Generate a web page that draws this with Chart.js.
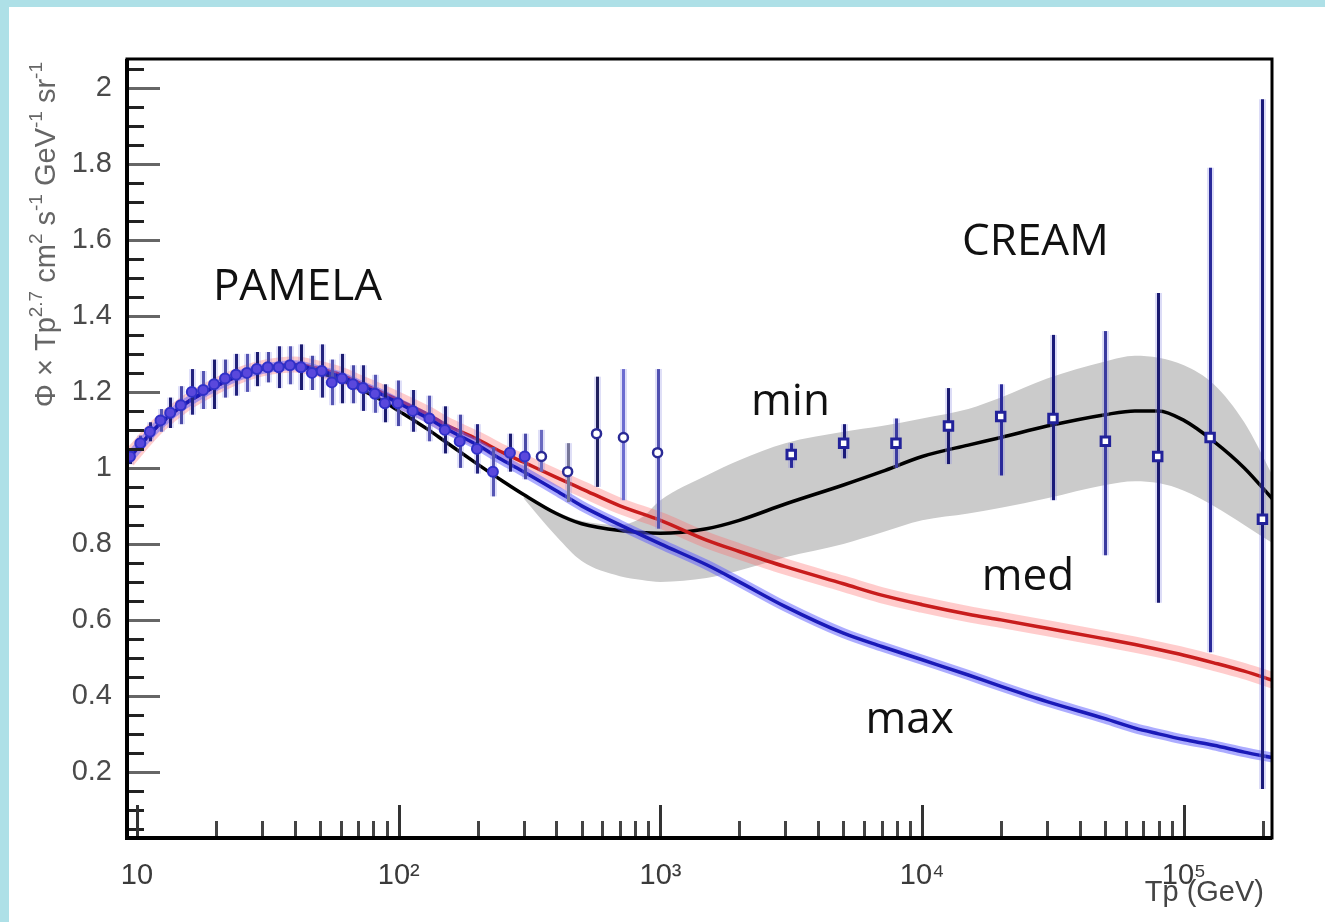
<!DOCTYPE html>
<html lang="en">
<head>
  <meta charset="UTF-8" />
  <title>Proton flux | PAMELA / CREAM</title>
  <style>
    body {
      margin: 0;
      background: #fff;
    }

    .frame {
      width: 1316px;
      height: 915px;
      border-top: 7px solid #aee0e7;
      border-left: 9px solid #aee0e7;
      background: #fff;
    }

    canvas {
      display: block;
    }
  </style>
</head>
<body>
  <div class="frame">
    <canvas id="fluxChart" width="1316" height="915"></canvas>
  </div>

  <script src="https://cdn.jsdelivr.net/npm/chart.js"></script>
  <script>
    // model curves (Tp in GeV)
    const curveE = [9.2, 10, 12, 15, 20, 25, 30, 40, 50, 60, 70, 85, 100, 130, 150, 200, 250, 300, 400, 500,
      700, 1000, 1500, 2000, 3000, 5000, 7000, 10000, 15000, 20000, 30000, 50000, 65000, 80000, 100000,
      130000, 170000, 220000];
    const maxCurve = [1.02, 1.05, 1.11, 1.165, 1.215, 1.245, 1.26, 1.27, 1.255, 1.24, 1.22, 1.195, 1.17, 1.13,
      1.105, 1.06, 1.02, 0.99, 0.94, 0.90, 0.85, 0.80, 0.745, 0.70, 0.635, 0.565, 0.53, 0.495, 0.455, 0.425,
      0.385, 0.34, 0.315, 0.30, 0.285, 0.27, 0.252, 0.237];
    const medCurve = [1.02, 1.05, 1.11, 1.165, 1.215, 1.245, 1.262, 1.272, 1.26, 1.245, 1.225, 1.2, 1.178, 1.14,
      1.115, 1.075, 1.04, 1.015, 0.975, 0.945, 0.90, 0.862, 0.81, 0.78, 0.74, 0.695, 0.665, 0.64, 0.615, 0.60,
      0.578, 0.55, 0.535, 0.522, 0.507, 0.487, 0.465, 0.44];
    const minCurve = [1.02, 1.05, 1.11, 1.165, 1.215, 1.245, 1.26, 1.268, 1.25, 1.232, 1.21, 1.18, 1.15, 1.10,
      1.07, 1.01, 0.965, 0.93, 0.88, 0.853, 0.835, 0.828, 0.84, 0.862, 0.905, 0.955, 0.99, 1.03, 1.06, 1.08,
      1.11, 1.14, 1.15, 1.15, 1.125, 1.07, 1.0, 0.915];

    // uncertainty band of the "min" model
    const bandE = [300, 400, 500, 700, 850, 1000, 1500, 2000, 3000, 5000, 7000, 10000, 15000, 20000, 30000,
      50000, 65000, 80000, 100000, 130000, 170000, 220000];
    const bandHi = [0.93, 0.885, 0.86, 0.85, 0.87, 0.915, 0.98, 1.02, 1.065, 1.095, 1.11, 1.13, 1.155, 1.185,
      1.235, 1.28, 1.295, 1.29, 1.27, 1.22, 1.12, 0.975];
    const bandLo = [0.92, 0.82, 0.755, 0.715, 0.705, 0.70, 0.71, 0.73, 0.765, 0.80, 0.83, 0.862, 0.88, 0.895,
      0.92, 0.955, 0.965, 0.96, 0.94, 0.90, 0.85, 0.80];

    // PAMELA
    const pamE = [9.4, 10.3, 11.2, 12.3, 13.4, 14.7, 16.2, 17.9, 19.7, 21.7, 23.9, 26.3, 28.7, 31.6, 34.8,
      38.4, 42.3, 46.6, 50.8, 55.5, 60.7, 66.8, 73.0, 81.1, 88.5, 99.1, 113, 131, 150, 171, 199, 229, 266, 303];
    const pamV = [1.03, 1.065, 1.095, 1.125, 1.145, 1.165, 1.2, 1.205, 1.22, 1.235, 1.245, 1.25, 1.26, 1.265,
      1.265, 1.27, 1.265, 1.25, 1.255, 1.225, 1.235, 1.22, 1.21, 1.195, 1.17, 1.17, 1.15, 1.13, 1.10, 1.07,
      1.05, 0.99, 1.04, 1.03];
    const pamErr = [0.02, 0.02, 0.025, 0.03, 0.04, 0.05, 0.06, 0.05, 0.065, 0.05, 0.055, 0.05, 0.045, 0.04,
      0.055, 0.05, 0.06, 0.045, 0.07, 0.06, 0.065, 0.05, 0.06, 0.05, 0.05, 0.06, 0.055, 0.06, 0.062, 0.07,
      0.065, 0.065, 0.05, 0.06];

    // PAMELA high-energy points
    const hiE = [351, 442, 570, 722, 975];
    const hiV = [1.03, 0.99, 1.09, 1.08, 1.04];
    const hiLo = [0.99, 0.91, 0.95, 0.915, 0.84];
    const hiHi = [1.10, 1.065, 1.24, 1.26, 1.26];

    // CREAM
    const crE = [3160, 5010, 7940, 12600, 19950, 31600, 50100, 79400, 125900, 199500];
    const crV = [1.035, 1.065, 1.065, 1.11, 1.135, 1.13, 1.07, 1.03, 1.08, 0.865];
    const crLo = [1.0, 1.025, 1.0, 1.01, 0.98, 0.915, 0.77, 0.645, 0.515, 0.155];
    const crHi = [1.065, 1.115, 1.13, 1.21, 1.22, 1.35, 1.36, 1.46, 1.79, 1.97];

    // axes
    const xTickVals = [10, 100, 1000, 10000, 100000];
    const xTickLabels = ['10', '10²', '10³', '10⁴', '10⁵'];
    const yTickVals = [0.2, 0.4, 0.6, 0.8, 1.0, 1.2, 1.4, 1.6, 1.8, 2.0];
    const yTickLabels = ['0.2', '0.4', '0.6', '0.8', '1', '1.2', '1.4', '1.6', '1.8', '2'];

    // text labels placed in data coordinates
    const notes = [
      { text: 'PAMELA', x: 19.5, y: 1.442 },
      { text: 'CREAM', x: 14200, y: 1.56 },
      { text: 'min', x: 2220, y: 1.14 },
      { text: 'med', x: 16900, y: 0.679 },
      { text: 'max', x: 6070, y: 0.303 }
    ];

    const pts = (xs, ys) => xs.map((x, i) => ({ x: x, y: ys[i] }));
    const sans = "'Liberation Sans', Arial, sans-serif";

    // error bars drawn just before their dataset's markers
    const errorBars = {
      id: 'errorBars',
      beforeDatasetDraw(chart, args) {
        const ds = chart.data.datasets[args.index];
        if (!ds.errLo) return;
        const { ctx, chartArea, scales } = chart;
        ctx.save();
        ctx.beginPath();
        ctx.rect(chartArea.left, chartArea.top, chartArea.width, chartArea.height);
        ctx.clip();
        ds.data.forEach((p, i) => {
          const px = Math.round(scales.x.getPixelForValue(p.x)) + 0.5;
          const top = scales.y.getPixelForValue(ds.errHi[i]);
          const bot = scales.y.getPixelForValue(ds.errLo[i]);
          ctx.strokeStyle = ds.errGlow;
          ctx.lineWidth = 7;
          ctx.beginPath(); ctx.moveTo(px, top); ctx.lineTo(px, bot); ctx.stroke();
          ctx.strokeStyle = ds.errColors[i % ds.errColors.length];
          ctx.lineWidth = 3;
          ctx.beginPath(); ctx.moveTo(px, top); ctx.lineTo(px, bot); ctx.stroke();
        });
        ctx.restore();
      }
    };

    // ROOT-like frame, inward ticks, axis titles and text notes
    const decorations = {
      id: 'decorations',
      afterDatasetsDraw(chart) {
        const { ctx, scales } = chart;
        ctx.save();
        ctx.fillStyle = '#111';
        ctx.font = "44px 'Open Sans', 'Liberation Sans', sans-serif";
        ctx.textBaseline = 'alphabetic';
        notes.forEach(n => {
          ctx.fillText(n.text, scales.x.getPixelForValue(n.x), scales.y.getPixelForValue(n.y));
        });
        ctx.restore();
      },
      afterDraw(chart) {
        const { ctx, chartArea: a, scales } = chart;
        ctx.save();

        // y ticks every 0.05
        for (let k = 1; k <= 41; k++) {
          const v = k * 0.05;
          const py = Math.round(scales.y.getPixelForValue(v)) + 0.5;
          if (py < a.top || py > a.bottom) continue;
          const major = k % 4 === 0;
          ctx.strokeStyle = major ? '#666' : '#222';
          ctx.lineWidth = 3;
          ctx.beginPath();
          ctx.moveTo(a.left, py);
          ctx.lineTo(a.left + (major ? 33 : 17), py);
          ctx.stroke();
        }

        // x ticks, log decades
        for (let d = 0; d <= 5; d++) {
          for (let m = 1; m <= 9; m++) {
            const v = m * Math.pow(10, d);
            if (v < scales.x.min || v > scales.x.max) continue;
            const px = Math.round(scales.x.getPixelForValue(v)) + 0.5;
            ctx.strokeStyle = m === 1 ? '#333' : '#444';
            ctx.lineWidth = 3;
            ctx.beginPath();
            ctx.moveTo(px, a.bottom);
            ctx.lineTo(px, a.bottom - (m === 1 ? 33 : 17));
            ctx.stroke();
          }
        }

        // frame
        ctx.strokeStyle = '#000';
        ctx.lineWidth = 3;
        ctx.strokeRect(a.left, a.top, a.right - a.left, a.bottom - a.top);
        ctx.lineWidth = 4;
        ctx.beginPath();
        ctx.moveTo(a.left, a.top);
        ctx.lineTo(a.left, a.bottom);
        ctx.lineTo(a.right, a.bottom);
        ctx.stroke();

        // x title
        ctx.fillStyle = '#444';
        ctx.font = '29px ' + sans;
        ctx.textAlign = 'right';
        ctx.textBaseline = 'alphabetic';
        ctx.fillText('Tp (GeV)', a.right - 8, 894);

        // y title, rotated, with superscripts
        const parts = [['Φ × Tp', 0], ['2.7', 1], [' cm', 0], ['2', 1], [' s', 0], ['-1', 1],
          [' GeV', 0], ['-1', 1], [' sr', 0], ['-1', 1]];
        const baseFont = '29px ' + sans;
        const supFont = '19px ' + sans;
        let total = 0;
        parts.forEach(p => { ctx.font = p[1] ? supFont : baseFont; total += ctx.measureText(p[0]).width; });
        ctx.translate(46, 55 + total);
        ctx.rotate(-Math.PI / 2);
        ctx.textAlign = 'left';
        ctx.fillStyle = '#666';
        let cx = 0;
        parts.forEach(p => {
          ctx.font = p[1] ? supFont : baseFont;
          ctx.fillText(p[0], cx, p[1] ? -13 : 0);
          cx += ctx.measureText(p[0]).width;
        });
        ctx.restore();
      }
    };

    const lineBase = { pointRadius: 0, fill: false, cubicInterpolationMode: 'monotone' };

    new Chart(document.getElementById('fluxChart'), {
      type: 'line',
      data: {
        datasets: [
          { ...lineBase, data: pts(bandE, bandHi), borderWidth: 0, borderColor: 'rgba(0,0,0,0)', order: 20 },
          { ...lineBase, data: pts(bandE, bandLo), borderWidth: 0, borderColor: 'rgba(0,0,0,0)',
            fill: '-1', backgroundColor: '#cbcbcb', order: 19 },
          { ...lineBase, data: pts(curveE, medCurve), borderColor: 'rgba(255,100,100,0.33)', borderWidth: 16, order: 18 },
          { ...lineBase, data: pts(curveE, minCurve), borderColor: '#000', borderWidth: 3.5, order: 17 },
          { ...lineBase, data: pts(curveE, medCurve), borderColor: '#c81c1c', borderWidth: 3.5, order: 16 },
          { ...lineBase, data: pts(curveE, maxCurve), borderColor: 'rgba(90,90,255,0.5)', borderWidth: 10, order: 15 },
          { ...lineBase, data: pts(curveE, maxCurve), borderColor: '#1a1ab8', borderWidth: 3.5, order: 14 },
          {
            data: pts(pamE, pamV), showLine: false, order: 3,
            pointStyle: 'circle', pointRadius: 5, pointBorderWidth: 2,
            pointBorderColor: '#3030c8', pointBackgroundColor: '#5a48dc',
            errLo: pamV.map((v, i) => v - pamErr[i]), errHi: pamV.map((v, i) => v + pamErr[i]),
            errColors: ['#1c1c70', '#4a4aa8', '#23237e', '#5656b4'], errGlow: 'rgba(130,130,230,0.25)'
          },
          {
            data: pts(hiE, hiV), showLine: false, order: 2,
            pointStyle: 'circle', pointRadius: 4.5, pointBorderWidth: 2.5,
            pointBorderColor: '#2a2a95', pointBackgroundColor: '#fff',
            errLo: hiLo, errHi: hiHi,
            errColors: ['#6a6ac0', '#777799', '#20205e', '#6c6cd0', '#5050b0'], errGlow: 'rgba(150,150,230,0.3)'
          },
          {
            data: pts(crE, crV), showLine: false, order: 1,
            pointStyle: 'rect', pointRadius: 6, pointBorderWidth: 3,
            pointBorderColor: '#22229a', pointBackgroundColor: '#fff',
            errLo: crLo, errHi: crHi,
            errColors: ['#2a2a9a', '#1a1a7a', '#3a3aa0', '#1a1a70'], errGlow: 'rgba(140,140,230,0.3)'
          }
        ]
      },
      options: {
        responsive: false,
        animation: false,
        events: [],
        layout: { padding: { left: 0, top: 52, right: 53, bottom: 0 } },
        plugins: { legend: { display: false }, tooltip: { enabled: false } },
        scales: {
          x: {
            type: 'logarithmic',
            min: 9.16,
            max: 217000,
            grid: { display: false },
            border: { display: false },
            afterBuildTicks: s => { s.ticks = xTickVals.map(v => ({ value: v })); },
            afterFit: s => { s.height = 84; },
            ticks: {
              autoSkip: false,
              maxRotation: 0,
              padding: 13,
              color: '#3a3a3a',
              font: { family: sans, size: 29 },
              callback: v => xTickLabels[xTickVals.indexOf(v)]
            }
          },
          y: {
            type: 'linear',
            min: 0.026,
            max: 2.076,
            grid: { display: false },
            border: { display: false },
            afterBuildTicks: s => { s.ticks = yTickVals.map(v => ({ value: v })); },
            afterFit: s => { s.width = 118; },
            ticks: {
              padding: 7,
              color: '#4a4a4a',
              font: { family: sans, size: 29 },
              callback: v => yTickLabels[yTickVals.indexOf(v)]
            }
          }
        }
      },
      plugins: [errorBars, decorations]
    });
  </script>
</body>
</html>
